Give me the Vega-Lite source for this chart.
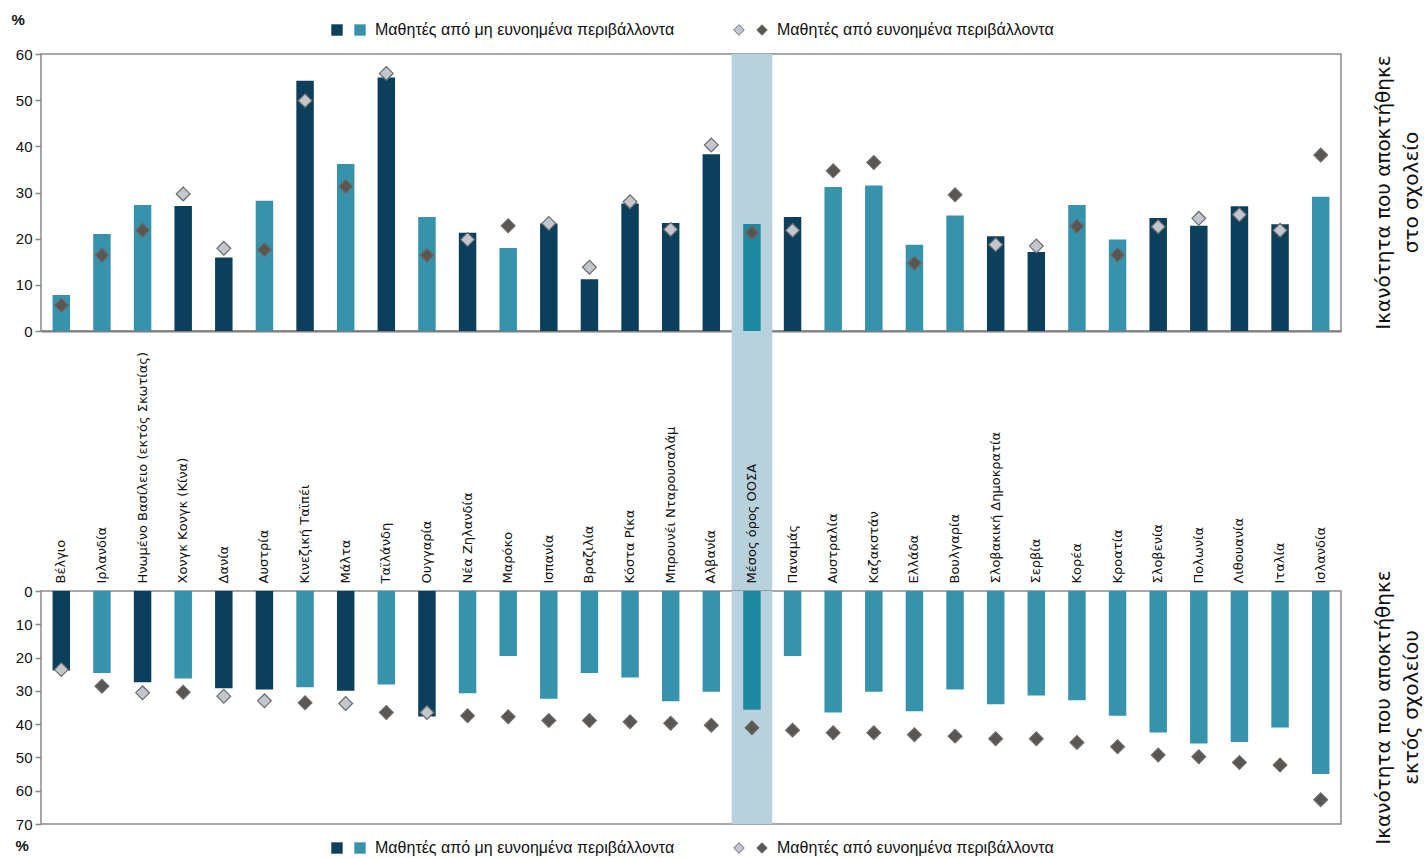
{
  "$schema": "https://vega.github.io/schema/vega-lite/v6.json",
  "background": "white",
  "padding": {"left": 10, "top": 11, "right": 0, "bottom": 0},
  "datasets": {
    "pisa": [
      {"country": "Βέλγιο", "in_dis": 7.8, "in_adv": 5.6, "in_type": "not significant", "out_dis": 23.9, "out_adv": 23.6, "out_type": "significant"},
      {"country": "Ιρλανδία", "in_dis": 21.0, "in_adv": 16.4, "in_type": "not significant", "out_dis": 24.6, "out_adv": 28.6, "out_type": "not significant"},
      {"country": "Ηνωμένο Βασίλειο (εκτός Σκωτίας)", "in_dis": 27.3, "in_adv": 21.8, "in_type": "not significant", "out_dis": 27.4, "out_adv": 30.6, "out_type": "significant"},
      {"country": "Χονγκ Κονγκ (Κίνα)", "in_dis": 27.1, "in_adv": 29.7, "in_type": "significant", "out_dis": 26.3, "out_adv": 30.4, "out_type": "not significant"},
      {"country": "Δανία", "in_dis": 15.9, "in_adv": 17.9, "in_type": "significant", "out_dis": 29.2, "out_adv": 31.6, "out_type": "significant"},
      {"country": "Αυστρία", "in_dis": 28.2, "in_adv": 17.6, "in_type": "not significant", "out_dis": 29.6, "out_adv": 33.0, "out_type": "significant"},
      {"country": "Κινεζική Ταϊπέι", "in_dis": 54.2, "in_adv": 49.9, "in_type": "significant", "out_dis": 28.9, "out_adv": 33.6, "out_type": "not significant"},
      {"country": "Μάλτα", "in_dis": 36.2, "in_adv": 31.3, "in_type": "not significant", "out_dis": 30.0, "out_adv": 33.8, "out_type": "significant"},
      {"country": "Ταϊλάνδη", "in_dis": 54.9, "in_adv": 55.8, "in_type": "significant", "out_dis": 28.1, "out_adv": 36.5, "out_type": "not significant"},
      {"country": "Ουγγαρία", "in_dis": 24.7, "in_adv": 16.4, "in_type": "not significant", "out_dis": 37.7, "out_adv": 36.5, "out_type": "significant"},
      {"country": "Νέα Ζηλανδία", "in_dis": 21.3, "in_adv": 19.8, "in_type": "significant", "out_dis": 30.7, "out_adv": 37.5, "out_type": "not significant"},
      {"country": "Μαρόκο", "in_dis": 18.0, "in_adv": 22.8, "in_type": "not significant", "out_dis": 19.5, "out_adv": 37.8, "out_type": "not significant"},
      {"country": "Ισπανία", "in_dis": 23.3, "in_adv": 23.3, "in_type": "significant", "out_dis": 32.4, "out_adv": 38.9, "out_type": "not significant"},
      {"country": "Βραζιλία", "in_dis": 11.2, "in_adv": 13.8, "in_type": "significant", "out_dis": 24.6, "out_adv": 38.9, "out_type": "not significant"},
      {"country": "Κόστα Ρίκα", "in_dis": 27.6, "in_adv": 28.0, "in_type": "significant", "out_dis": 26.0, "out_adv": 39.3, "out_type": "not significant"},
      {"country": "Μπρουνέι Νταρουσαλάμ", "in_dis": 23.4, "in_adv": 22.0, "in_type": "significant", "out_dis": 33.1, "out_adv": 39.7, "out_type": "not significant"},
      {"country": "Αλβανία", "in_dis": 38.3, "in_adv": 40.3, "in_type": "significant", "out_dis": 30.3, "out_adv": 40.3, "out_type": "not significant"},
      {"country": "Μέσος όρος ΟΟΣΑ", "in_dis": 23.2, "in_adv": 21.3, "in_type": "OECD", "out_dis": 35.7, "out_adv": 41.1, "out_type": "OECD"},
      {"country": "Παναμάς", "in_dis": 24.7, "in_adv": 21.8, "in_type": "significant", "out_dis": 19.5, "out_adv": 41.8, "out_type": "not significant"},
      {"country": "Αυστραλία", "in_dis": 31.2, "in_adv": 34.7, "in_type": "not significant", "out_dis": 36.5, "out_adv": 42.6, "out_type": "not significant"},
      {"country": "Καζακστάν", "in_dis": 31.5, "in_adv": 36.5, "in_type": "not significant", "out_dis": 30.3, "out_adv": 42.6, "out_type": "not significant"},
      {"country": "Ελλάδα", "in_dis": 18.7, "in_adv": 14.7, "in_type": "not significant", "out_dis": 36.1, "out_adv": 43.2, "out_type": "not significant"},
      {"country": "Βουλγαρία", "in_dis": 25.0, "in_adv": 29.5, "in_type": "not significant", "out_dis": 29.6, "out_adv": 43.6, "out_type": "not significant"},
      {"country": "Σλοβακική Δημοκρατία", "in_dis": 20.5, "in_adv": 18.7, "in_type": "significant", "out_dis": 34.0, "out_adv": 44.4, "out_type": "not significant"},
      {"country": "Σερβία", "in_dis": 17.1, "in_adv": 18.4, "in_type": "significant", "out_dis": 31.4, "out_adv": 44.4, "out_type": "not significant"},
      {"country": "Κορέα", "in_dis": 27.3, "in_adv": 22.7, "in_type": "not significant", "out_dis": 32.8, "out_adv": 45.5, "out_type": "not significant"},
      {"country": "Κροατία", "in_dis": 19.8, "in_adv": 16.5, "in_type": "not significant", "out_dis": 37.5, "out_adv": 46.8, "out_type": "not significant"},
      {"country": "Σλοβενία", "in_dis": 24.5, "in_adv": 22.6, "in_type": "significant", "out_dis": 42.5, "out_adv": 49.3, "out_type": "not significant"},
      {"country": "Πολωνία", "in_dis": 22.8, "in_adv": 24.4, "in_type": "significant", "out_dis": 45.8, "out_adv": 49.8, "out_type": "not significant"},
      {"country": "Λιθουανία", "in_dis": 27.0, "in_adv": 25.2, "in_type": "significant", "out_dis": 45.4, "out_adv": 51.5, "out_type": "not significant"},
      {"country": "Ιταλία", "in_dis": 23.1, "in_adv": 21.8, "in_type": "significant", "out_dis": 41.0, "out_adv": 52.3, "out_type": "not significant"},
      {"country": "Ισλανδία", "in_dis": 29.1, "in_adv": 38.1, "in_type": "not significant", "out_dis": 55.0, "out_adv": 62.7, "out_type": "not significant"}
    ]
  },
  "vconcat": [
    {
      "width": 1300,
      "height": 277,
      "data": {"name": "pisa"},
      "title": {
        "text": ["Ικανότητα που αποκτήθηκε", "στο σχολείο"],
        "orient": "right",
        "anchor": "middle",
        "angle": 270,
        "baseline": "top",
        "font": "DejaVu Sans",
        "fontSize": 20,
        "fontWeight": "normal",
        "lineHeight": 28,
        "offset": -15,
        "color": "#111111"
      },
      "layer": [
        {
          "mark": {"type": "bar", "color": "#b8d2dd", "width": {"band": 1}},
          "encoding": {
            "x": {"field": "country", "type": "nominal", "sort": null, "scale": {"paddingInner": 0, "paddingOuter": 0}, "axis": {"labels": false, "ticks": false, "domain": true, "domainColor": "#7d7d7d", "domainWidth": 2, "grid": false, "title": null, "minExtent": 0, "maxExtent": 0}},
            "y": {
              "datum": -56.5,
              "type": "quantitative",
              "scale": {"domain": [0, 60], "nice": false},
              "axis": {
                "values": [0, 10, 20, 30, 40, 50, 60],
                "tickCount": 7,
                "labelOverlap": false,
                "title": "%",
                "titleAngle": 0,
                "titleAlign": "left",
                "titleBaseline": "middle",
                "titleX": -30,
                "titleY": -35,
                "titleFontSize": 15,
                "titleFontWeight": "bold",
                "titleFont": "Liberation Sans",
                "titleColor": "#111111"
              }
            },
            "y2": {"datum": 60},
            "opacity": {"condition": {"test": "datum.in_type == 'OECD'", "value": 1}, "value": 0}
          }
        },
        {
          "mark": {"type": "bar", "width": {"band": 0.43}},
          "encoding": {
            "x": {"field": "country", "type": "nominal", "sort": null},
            "y": {"field": "in_dis", "type": "quantitative", "scale": {"domain": [0, 60], "nice": false}},
            "color": {
              "field": "in_type",
              "type": "nominal",
              "scale": {"domain": ["significant", "not significant", "OECD"], "range": ["#0b3f5b", "#3793ab", "#1e8aa2"]},
              "legend": {
                "orient": "top",
                "direction": "horizontal",
                "values": ["significant", "not significant"],
                "labelExpr": "datum.value == 'significant' ? '' : 'Μαθητές από μη ευνοημένα περιβάλλοντα'",
                "symbolType": "square",
                "symbolSize": 130,
                "symbolStrokeWidth": 0,
                "title": null,
                "offset": 16
              }
            }
          }
        },
        {
          "mark": {"type": "point", "shape": "diamond", "filled": true, "size": 190, "stroke": "#6a6a6a", "strokeWidth": 1.2, "opacity": 1},
          "encoding": {
            "x": {"field": "country", "type": "nominal", "sort": null},
            "y": {"field": "in_adv", "type": "quantitative", "scale": {"domain": [0, 60], "nice": false}},
            "fill": {
              "field": "in_type",
              "type": "nominal",
              "scale": {"domain": ["not significant", "significant", "OECD"], "range": ["#5a5653", "#c2c7cd", "#5a5653"]},
              "legend": {
                "orient": "top",
                "direction": "horizontal",
                "values": ["significant", "not significant"],
                "labelExpr": "datum.value == 'significant' ? '' : 'Μαθητές από ευνοημένα περιβάλλοντα'",
                "symbolType": "diamond",
                "symbolSize": 110,
                "symbolStrokeColor": "#6a6a6a",
                "symbolStrokeWidth": 1,
                "title": null,
                "offset": 16
              }
            }
          }
        }
      ]
    },
    {
      "width": 1300,
      "height": 233,
      "data": {"name": "pisa"},
      "title": {
        "text": ["Ικανότητα που αποκτήθηκε", "εκτός σχολείου"],
        "orient": "right",
        "anchor": "middle",
        "angle": 270,
        "baseline": "top",
        "font": "DejaVu Sans",
        "fontSize": 20,
        "fontWeight": "normal",
        "lineHeight": 28,
        "offset": -15,
        "color": "#111111"
      },
      "layer": [
        {
          "mark": {"type": "bar", "color": "#b8d2dd", "width": {"band": 1}},
          "encoding": {
            "x": {"field": "country", "type": "nominal", "sort": null, "scale": {"paddingInner": 0, "paddingOuter": 0}, "axis": {"orient": "top", "labelAngle": -90, "labelFont": "DejaVu Sans", "labelFontSize": 13, "labelColor": "#111111", "labelPadding": 8, "labelLimit": 0, "ticks": false, "domain": false, "grid": false, "title": null, "minExtent": 250, "maxExtent": 250}},
            "y": {
              "datum": 0,
              "type": "quantitative",
              "scale": {"domain": [0, 70], "nice": false, "reverse": true},
              "axis": {
                "values": [0, 10, 20, 30, 40, 50, 60, 70],
                "tickCount": 8,
                "labelOverlap": false,
                "title": "%",
                "titleAngle": 0,
                "titleAlign": "left",
                "titleBaseline": "middle",
                "titleX": -26,
                "titleY": 254,
                "titleFontSize": 15,
                "titleFontWeight": "bold",
                "titleFont": "Liberation Sans",
                "titleColor": "#111111"
              }
            },
            "y2": {"datum": 70},
            "opacity": {"condition": {"test": "datum.out_type == 'OECD'", "value": 1}, "value": 0}
          }
        },
        {
          "mark": {"type": "bar", "width": {"band": 0.43}},
          "encoding": {
            "x": {"field": "country", "type": "nominal", "sort": null},
            "y": {
              "field": "out_dis",
              "type": "quantitative",
              "scale": {"domain": [0, 70], "nice": false, "reverse": true},
              "axis": {
                "values": [0, 10, 20, 30, 40, 50, 60, 70],
                "tickCount": 8,
                "labelOverlap": false,
                "title": "%",
                "titleAngle": 0,
                "titleAlign": "left",
                "titleBaseline": "middle",
                "titleX": -26,
                "titleY": 254,
                "titleFontSize": 15,
                "titleFontWeight": "bold",
                "titleFont": "Liberation Sans",
                "titleColor": "#111111"
              }
            },
            "color": {
              "field": "out_type",
              "type": "nominal",
              "scale": {"domain": ["significant", "not significant", "OECD"], "range": ["#0b3f5b", "#3793ab", "#1e8aa2"]},
              "legend": {
                "orient": "bottom",
                "direction": "horizontal",
                "values": ["significant", "not significant"],
                "labelExpr": "datum.value == 'significant' ? '' : 'Μαθητές από μη ευνοημένα περιβάλλοντα'",
                "symbolType": "square",
                "symbolSize": 130,
                "symbolStrokeWidth": 0,
                "title": null,
                "offset": 16
              }
            }
          }
        },
        {
          "mark": {"type": "point", "shape": "diamond", "filled": true, "size": 190, "stroke": "#6a6a6a", "strokeWidth": 1.2, "opacity": 1},
          "encoding": {
            "x": {"field": "country", "type": "nominal", "sort": null},
            "y": {
              "field": "out_adv",
              "type": "quantitative",
              "scale": {"domain": [0, 70], "nice": false, "reverse": true},
              "axis": {
                "values": [0, 10, 20, 30, 40, 50, 60, 70],
                "tickCount": 8,
                "labelOverlap": false,
                "title": "%",
                "titleAngle": 0,
                "titleAlign": "left",
                "titleBaseline": "middle",
                "titleX": -26,
                "titleY": 254,
                "titleFontSize": 15,
                "titleFontWeight": "bold",
                "titleFont": "Liberation Sans",
                "titleColor": "#111111"
              }
            },
            "fill": {
              "field": "out_type",
              "type": "nominal",
              "scale": {"domain": ["not significant", "significant", "OECD"], "range": ["#5a5653", "#c2c7cd", "#5a5653"]},
              "legend": {
                "orient": "bottom",
                "direction": "horizontal",
                "values": ["significant", "not significant"],
                "labelExpr": "datum.value == 'significant' ? '' : 'Μαθητές από ευνοημένα περιβάλλοντα'",
                "symbolType": "diamond",
                "symbolSize": 110,
                "symbolStrokeColor": "#6a6a6a",
                "symbolStrokeWidth": 1,
                "title": null,
                "offset": 16
              }
            }
          }
        }
      ]
    }
  ],
  "spacing": 260,
  "bounds": "flush",
  "resolve": {
    "scale": {"color": "independent", "fill": "independent", "y": "independent", "x": "independent"},
    "legend": {"color": "independent", "fill": "independent"}
  },
  "config": {
    "font": "Liberation Sans",
    "view": {"stroke": "#8a8a8a", "strokeWidth": 1.5},
    "axis": {
      "labelFont": "Liberation Sans",
      "labelFontSize": 15,
      "labelColor": "#111111",
      "gridColor": "#a3a3a3",
      "gridWidth": 1.5,
      "tickColor": "#8a8a8a",
      "tickSize": 6,
      "tickWidth": 1.5,
      "domain": false,
      "labelPadding": 3
    },
    "legend": {
      "labelFont": "Liberation Sans",
      "labelFontSize": 16,
      "labelColor": "#111111",
      "labelOffset": 7,
      "labelLimit": 0,
      "columnPadding": 0,
      "symbolOffset": 0,
      "layout": {
        "top": {"anchor": "middle", "direction": "horizontal", "margin": 56},
        "bottom": {"anchor": "middle", "direction": "horizontal", "margin": 56}
      }
    }
  }
}
